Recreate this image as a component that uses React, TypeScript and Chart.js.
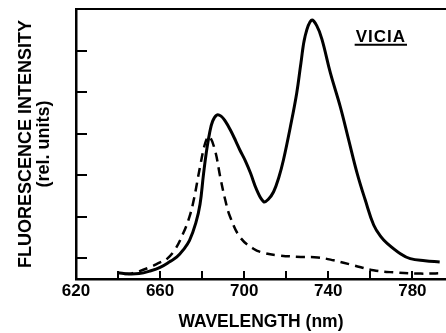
import React, { useEffect, useRef } from "react";
import { Chart, registerables } from "chart.js";

Chart.register(...registerables);

// Solid curve (wavelength nm, relative intensity)
const solidWavelengths = [640, 645, 650, 655, 660, 665, 668, 671, 674, 677, 679, 680.6, 682, 683.5, 685, 687, 689, 691, 693.5, 696, 698, 700.5, 703, 706, 709.3, 711.5, 714, 716.5, 718.7, 722, 725, 727, 729, 732, 734.5, 737, 741, 745.7, 749.7, 753.7, 757.6, 761.6, 765, 768, 774.3, 779, 786, 793];
const solidIntensity = [-0.35, -0.38, -0.37, -0.31, -0.22, -0.07, 0.03, 0.2, 0.43, 0.85, 1.3, 2.0, 2.55, 3.0, 3.3, 3.45, 3.42, 3.3, 3.08, 2.82, 2.6, 2.35, 2.05, 1.64, 1.36, 1.42, 1.6, 1.95, 2.37, 3.17, 3.98, 4.7, 5.35, 5.73, 5.6, 5.27, 4.46, 3.65, 2.85, 2.05, 1.4, 0.8, 0.52, 0.36, 0.11, -0.01, -0.06, -0.09];

// Dashed curve
const dashedWavelengths = [643, 647, 655, 660, 663, 667, 671, 674, 676, 679, 681.5, 683.3, 686, 688.6, 691, 693.3, 698, 704.4, 710, 716, 727, 735, 742.5, 752, 761.5, 771, 784, 795];
const dashedIntensity = [-0.38, -0.36, -0.22, -0.1, -0.03, 0.2, 0.6, 1.0, 1.4, 2.2, 2.78, 2.93, 2.62, 1.96, 1.4, 1.0, 0.51, 0.23, 0.12, 0.07, 0.03, 0.02, -0.05, -0.17, -0.29, -0.34, -0.37, -0.36];

const xLabelValues = [620, 660, 700, 740, 780];
const xTickMarks = [640, 660, 680, 700, 720, 740, 760, 780];
const yTickMarks = [0, 1, 2, 3, 4, 5];
const xTitle = "WAVELENGTH (nm)";
const yTitle = ["FLUORESCENCE INTENSITY", "(rel. units)"];
const annotationText = "VICIA";
const annotationAt = { x: 765, y: 5.33 };

const FONT = "'Liberation Sans', Arial, sans-serif";

const extrasPlugin = {
  id: "extras",
  afterDraw(chart: any) {
    const { ctx, chartArea, scales } = chart;
    const x = scales.x;
    const y = scales.y;
    ctx.save();
    ctx.strokeStyle = "#000";
    ctx.lineWidth = 2;
    ctx.beginPath();
    yTickMarks.forEach((v) => {
      const py = Math.round(y.getPixelForValue(v));
      ctx.moveTo(chartArea.left, py);
      ctx.lineTo(chartArea.left + 11, py);
    });
    xTickMarks.forEach((v) => {
      const px = Math.round(x.getPixelForValue(v));
      ctx.moveTo(px, chartArea.bottom);
      ctx.lineTo(px, chartArea.bottom - 8);
    });
    ctx.moveTo(chartArea.left - 1, chartArea.top);
    ctx.lineTo(chartArea.right, chartArea.top);
    ctx.stroke();

    // annotation label
    const ax = x.getPixelForValue(annotationAt.x);
    const ay = y.getPixelForValue(annotationAt.y);
    ctx.font = `bold 17px ${FONT}`;
    ctx.fillStyle = "#000";
    ctx.textAlign = "center";
    ctx.textBaseline = "middle";
    (ctx as any).letterSpacing = "1px";
    ctx.fillText(annotationText, ax, ay);
    const w = ctx.measureText(annotationText).width;
    ctx.lineWidth = 2;
    ctx.beginPath();
    ctx.moveTo(ax - w / 2 - 1, ay + 8);
    ctx.lineTo(ax + w / 2 + 1, ay + 8);
    ctx.stroke();
    ctx.restore();
  },
};

export default function App() {
  const ref = useRef<HTMLCanvasElement>(null);
  useEffect(() => {
    document.body.style.margin = "0";
    const canvas = ref.current;
    if (!canvas) return;
    const chart = new Chart(canvas, {
      type: "line",
      data: {
        datasets: [
          {
            data: solidWavelengths.map((w, i) => ({ x: w, y: solidIntensity[i] })),
            borderColor: "#000",
            borderWidth: 3,
            pointRadius: 0,
            tension: 0.4,
            fill: false,
          },
          {
            data: dashedWavelengths.map((w, i) => ({ x: w, y: dashedIntensity[i] })),
            borderColor: "#000",
            borderWidth: 2.5,
            borderDash: [9, 6],
            pointRadius: 0,
            tension: 0.4,
            fill: false,
          },
        ],
      },
      options: {
        responsive: false,
        animation: false,
        devicePixelRatio: 1,
        layout: { padding: { top: 9, right: 0, left: 0, bottom: 0 } },
        plugins: { legend: { display: false }, tooltip: { enabled: false } },
        scales: {
          x: {
            type: "linear",
            min: 620,
            max: 796,
            grid: { display: false, drawTicks: false },
            border: { display: true, color: "#000", width: 2.5 },
            ticks: {
              stepSize: 20,
              includeBounds: false,
              autoSkip: false,
              maxRotation: 0,
              padding: 2,
              color: "#000",
              font: { family: FONT, size: 17, weight: "bold" },
              callback: (v: any) => (xLabelValues.includes(Number(v)) ? String(v) : ""),
            },
            title: {
              display: true,
              text: xTitle,
              color: "#000",
              font: { family: FONT, size: 17.5, weight: "bold", lineHeight: 1.2 },
              padding: { top: 0, bottom: 0 },
            },
            afterFit: (scale: any) => {
              scale.height = 54;
            },
          },
          y: {
            type: "linear",
            min: -0.5,
            max: 6,
            grid: { display: false, drawTicks: false },
            border: { display: true, color: "#000", width: 2.5 },
            ticks: { display: false, stepSize: 1 },
            title: {
              display: true,
              text: yTitle,
              color: "#000",
              font: { family: FONT, size: 18, weight: "bold", lineHeight: 1 },
              padding: { top: 17, bottom: 0 },
            },
            afterFit: (scale: any) => {
              scale.width = 76;
            },
          },
        },
      },
      plugins: [extrasPlugin],
    } as any);
    return () => chart.destroy();
  }, []);
  return (
    <div style={{ width: 446, height: 333, background: "#fff" }}>
      <canvas ref={ref} width={446} height={333} style={{ display: "block" }} />
    </div>
  );
}
